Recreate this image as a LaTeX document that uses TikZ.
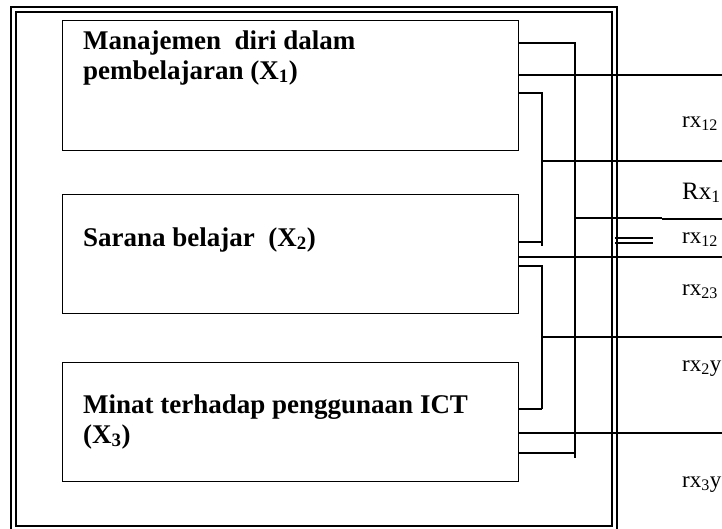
\documentclass[tikz,border=0pt]{standalone}
\usepackage{fontspec}
\setmainfont{Liberation Serif}
\usetikzlibrary{positioning}
\tikzset{
  varbox/.style={draw,line width=1.2pt,minimum width=456pt,anchor=north west,inner sep=0pt},
  vartext/.style={anchor=base west,inner sep=0pt,font=\fontsize{27}{31}\selectfont\bfseries},
  rlabel/.style={anchor=base west,inner sep=0pt,font=\fontsize{23}{26}\selectfont},
  thinline/.style={line width=1.2pt},
  thickline/.style={line width=2pt},
}
\begin{document}
\begin{tikzpicture}[x=1pt,y=-1pt]
\useasboundingbox (0,0) rectangle (722,528);
\clip (0,0) rectangle (722,528);
% frame
\draw[line width=2pt] (11,7) rectangle (617,533);
\draw[line width=1.5pt] (16,12) rectangle (612,526);
% variables
\node[varbox,minimum height=130pt] (x1) at (62,20) {};
\node[varbox,minimum height=119pt] (x2) at (62,194) {};
\node[varbox,minimum height=119pt] (x3) at (62,362) {};
\node[vartext] (x1a) at (83,49) {Manajemen\ \ diri dalam};
\node[vartext] (x1b) at (83,79) {pembelajaran (X\textsubscript{1})};
\node[vartext] (x2a) at (83,246) {Sarana belajar\ \ (X\textsubscript{2})};
\node[vartext] (x3a) at (83,413) {Minat terhadap penggunaan ICT};
\node[vartext] (x3b) at (83,443) {(X\textsubscript{3})};
% labels
\node[rlabel] (r12) at (682,127) {rx\textsubscript{12}};
\node[rlabel,font=\fontsize{25}{28}\selectfont] (r1) at (682,199) {Rx\textsubscript{1}};
\node[rlabel] (r122) at (682,243) {rx\textsubscript{12}};
\node[rlabel] (r23) at (682,295) {rx\textsubscript{23}};
\node[rlabel] (r2y) at (682,371) {rx\textsubscript{2}y};
\node[rlabel] (r3y) at (682,487) {rx\textsubscript{3}y};
% junctions and free ends
\coordinate (ja) at (575,43);
\coordinate (jb) at (575,458);
\coordinate (jc) at (542,93);
\coordinate (jd) at (542,246);
\coordinate (je) at (542,266);
\coordinate (jf) at (542,409);
\coordinate (eb) at (722,75);
\coordinate (ec) at (722,161);
\coordinate (ed) at (722,257);
\coordinate (ee) at (722,337);
\coordinate (ef) at (722,433);
\coordinate (eg) at (662,218);
% connectors
\draw[thinline] (x1.east |- ja) -- (ja) -- (jb);
\draw[thinline] (jb |- 0,453) -- (x3.east |- 0,453);
\draw[thickline] (ja |- eg) -- (eg);
\draw[thinline] (eg |- 0,219) -- (722,219);
\draw[thickline] (x1.east |- eb) -- (eb);
\draw[thickline] (x1.east |- jc) -- (jc) -- (jd);
\draw[thickline] (jd |- 0,242) -- (x2.east |- 0,242);
\draw[thickline] (jc |- ec) -- (ec);
\draw[thickline] (x2.east |- ed) -- (ed);
\draw[thickline] (x2.east |- je) -- (je) -- (jf);
\draw[thickline] (jf) -- (x3.east |- jf);
\draw[thickline] (je |- ee) -- (ee);
\draw[thinline] (x3.east |- ef) -- (ef);
\draw[thickline] (615,238) -- (653,238);
\draw[thickline] (615,243) -- (653,243);
\end{tikzpicture}
\end{document}
